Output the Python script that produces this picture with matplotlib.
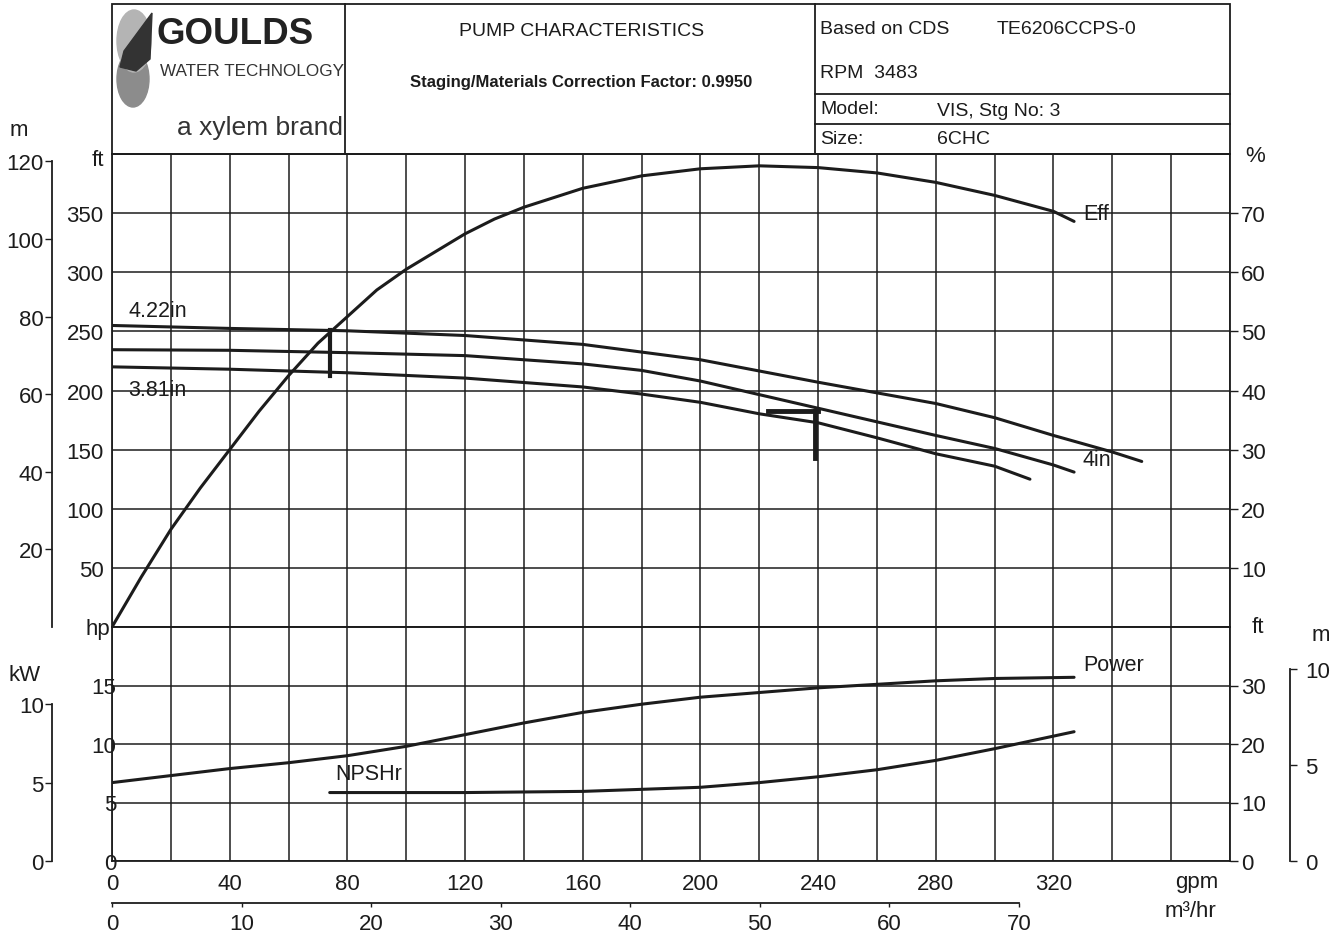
import matplotlib
matplotlib.use("Agg")
import matplotlib.pyplot as plt
from matplotlib.patches import Rectangle, Ellipse, Polygon

# --- data (gpm on x) ---
flow_eff = [0, 10, 20, 30, 40, 50, 60, 70, 80, 90, 100, 110, 120, 130, 140,
            160, 180, 200, 220, 240, 260, 280, 300, 320, 327]
eff_pct = [0, 8.5, 16.5, 23.5, 30, 36.5, 42.5, 48, 52.5, 57, 60.5, 63.5, 66.5, 69, 71,
           74.2, 76.3, 77.5, 78, 77.7, 76.8, 75.2, 73, 70.3, 68.6]

flow_422 = [0, 40, 80, 120, 160, 200, 220, 240, 260, 280, 300, 320, 340, 350]
head_422 = [255, 252.5, 250.5, 246.5, 239, 226, 216.5, 207, 198, 189, 177, 162, 148, 140]

flow_400 = [0, 40, 80, 120, 160, 180, 200, 220, 240, 260, 280, 300, 320, 327]
head_400 = [234.5, 234, 232, 229.5, 222.5, 217, 208, 196.5, 185, 173.5, 162, 151, 137, 131]

flow_381 = [0, 40, 80, 120, 160, 180, 200, 220, 240, 260, 280, 300, 312]
head_381 = [220, 218, 215, 210.5, 203, 197, 190, 180.3, 172.7, 160, 146.5, 136, 125]

flow_pwr = [0, 20, 40, 60, 80, 100, 120, 140, 160, 180, 200, 220, 240, 260, 280, 300, 327]
power_hp = [6.7, 7.3, 7.9, 8.4, 9.0, 9.8, 10.8, 11.8, 12.7, 13.4, 14.0, 14.4, 14.8,
            15.1, 15.4, 15.6, 15.7]

flow_npsh = [74, 120, 160, 200, 220, 240, 260, 280, 300, 327]
npsh_ft = [11.7, 11.7, 11.9, 12.6, 13.4, 14.4, 15.6, 17.2, 19.2, 22.1]

# min / max flow marks
min_flow, min_mark = 74, (212, 251)
max_flow, max_mark, max_bar = 239, (143, 183), (223, 240)

gpm_labels = [0, 40, 80, 120, 160, 200, 240, 280, 320]
m3h_labels = [0, 10, 20, 30, 40, 50, 60, 70]
head_ft_labels = [50, 100, 150, 200, 250, 300, 350]
head_m_labels = [20, 40, 60, 80, 100, 120]
pct_labels = [10, 20, 30, 40, 50, 60, 70]
hp_labels = [0, 5, 10, 15]
kw_labels = [0, 5, 10]
npsh_ft_labels = [0, 10, 20, 30]
npsh_m_labels = [0, 5, 10]

FT_PER_M = 3.2808
GPM_PER_M3H = 4.4029
KW_PER_HP = 0.7457

W, H = 1344, 937
INK = "#1c1c1c"
FONT = ["Liberation Sans", "DejaVu Sans"]
plt.rcParams["font.family"] = FONT

fig = plt.figure(figsize=(W / 100, H / 100), dpi=100)


def box(x0, y0, x1, y1):
    return [x0 / W, 1 - y1 / H, (x1 - x0) / W, (y1 - y0) / H]


L, R = 112, 1230
ax = fig.add_axes(box(L, 155, R, 628))
axb = fig.add_axes(box(L, 628, R, 862))
span = R - L

for a in (ax, axb):
    a.set_xlim(0, 380)
    a.set_xticks(range(0, 381, 20))
    a.grid(True, color=INK, lw=1.1)
    a.set_axisbelow(True)
    for s in a.spines.values():
        s.set_color(INK)
        s.set_linewidth(1.3)

# top panel: head (ft)
ax.set_ylim(0, 400)
ax.set_yticks(range(0, 401, 50))
ax.set_yticklabels([""] + [str(v) for v in head_ft_labels] + [""])
ax.tick_params(length=0, labelbottom=False, labelsize=16, pad=6, colors=INK)

# bottom panel: power (hp)
axb.set_ylim(0, 20)
axb.set_yticks(range(0, 21, 5))
axb.set_yticklabels([str(v) for v in hp_labels] + [""])
axb.set_xticklabels([str(v) if v in gpm_labels else "" for v in range(0, 381, 20)])
axb.tick_params(axis="y", length=0, labelsize=16, pad=-3, colors=INK)
axb.tick_params(axis="x", length=0, labelsize=16, pad=9, colors=INK)


def side_axis(parent, ymax, ticks, bound, pos, side, pad=1):
    a = parent.twinx()
    a.set_ylim(0, ymax)
    for k, s in a.spines.items():
        s.set_visible(k == side)
    sp = a.spines[side]
    sp.set_position(("axes", pos))
    sp.set_bounds(0, bound)
    sp.set_color(INK)
    sp.set_linewidth(1.3)
    a.yaxis.set_ticks_position(side)
    a.set_yticks(ticks)
    a.tick_params(direction="out", length=5, width=1, labelsize=16, pad=pad, colors=INK)
    return a


side_axis(ax, 400 / FT_PER_M, head_m_labels, 120, -60 / span, "left")
side_axis(axb, 20 * KW_PER_HP, kw_labels, 10, -60 / span, "left")
side_axis(axb, 40 / FT_PER_M, npsh_m_labels, 10, 1 + 60 / span, "right", pad=6)

# right: efficiency %
pct = ax.twinx()
pct.set_ylim(0, 80)
pct.set_yticks(pct_labels)
pct.tick_params(direction="out", length=6, width=1, labelsize=16, pad=2, colors=INK)
for s in pct.spines.values():
    s.set_visible(False)

# right bottom: NPSHr ft
nft = axb.twinx()
nft.set_ylim(0, 40)
nft.set_yticks(npsh_ft_labels)
nft.tick_params(direction="out", length=6, width=1, labelsize=16, pad=2, colors=INK)
for s in nft.spines.values():
    s.set_visible(False)

# m3/hr scale under the gpm scale
mh = fig.add_axes(box(L, 903, R, 904))
mh.set_xlim(0, 380 / GPM_PER_M3H)
mh.patch.set_visible(False)
for k, s in mh.spines.items():
    s.set_visible(k == "bottom")
mh.spines["bottom"].set_bounds(0, 70)
mh.spines["bottom"].set_color(INK)
mh.spines["bottom"].set_linewidth(1.3)
mh.set_yticks([])
mh.set_xticks(m3h_labels)
mh.tick_params(direction="out", length=3, width=1, labelsize=16, pad=4, colors=INK)

# curves
cw = 2.2
style = dict(color=INK, lw=cw, solid_capstyle="round", solid_joinstyle="round")
ax.plot(flow_422, head_422, **style)
ax.plot(flow_400, head_400, **style)
ax.plot(flow_381, head_381, **style)
pct.plot(flow_eff, eff_pct, **style)
ax.plot([min_flow, min_flow], min_mark, color=INK, lw=3)
ax.plot([max_flow, max_flow], max_mark, color=INK, lw=3.5)
ax.plot(max_bar, [max_mark[1], max_mark[1]], color=INK, lw=3.5)
axb.plot(flow_pwr, power_hp, **style)
nft.plot(flow_npsh, npsh_ft, **style)

lab = dict(fontsize=15.5, color=INK, va="center")
ax.text(5.5, 268, "4.22in", **lab)
ax.text(5.5, 201, "3.81in", **lab)
ax.text(330, 142, "4in", **lab)
ax.text(330, 350, "Eff", **lab)
axb.text(330, 16.8, "Power", **lab)
axb.text(76, 7.5, "NPSHr", **lab)

# overlay in pixel coords for header + unit labels
ov = fig.add_axes([0, 0, 1, 1])
ov.set_xlim(0, W)
ov.set_ylim(H, 0)
ov.axis("off")

lw = 1.3
ov.add_patch(Rectangle((L, 5), span, 150, fill=False, ec=INK, lw=lw))
ov.plot([345, 345], [5, 155], color=INK, lw=lw)
ov.plot([815, 815], [5, 155], color=INK, lw=lw)
ov.plot([815, R], [95, 95], color=INK, lw=lw)
ov.plot([815, R], [125, 125], color=INK, lw=lw)

# logo
ov.add_patch(Ellipse((133, 80), 32, 56, color="#8c8c8c"))
ov.add_patch(Ellipse((134, 42), 34, 62, color="#b4b4b4"))
ov.add_patch(Polygon([[152, 14], [150, 60], [136, 72], [120, 68], [124, 52]],
                     closed=True, color="#333333"))
ov.text(157, 35, "GOULDS", fontsize=26.5, fontweight="bold",
        color="#222222", va="center", ha="left")
ov.text(160, 71, "WATER TECHNOLOGY", fontsize=12.3,
        color="#333333", va="center", ha="left")
ov.text(343, 128, "a xylem brand", fontsize=19,
        color="#333333", va="center", ha="right")

ov.text(582, 31, "PUMP CHARACTERISTICS", fontsize=14, color=INK, ha="center", va="center")
ov.text(581, 82, "Staging/Materials Correction Factor: 0.9950", fontsize=12,
        fontweight="bold", color=INK, ha="center", va="center")

info = dict(fontsize=14, color=INK, va="center", ha="left")
ov.text(820, 30, "Based on CDS", **info)
ov.text(997, 30, "TE6206CCPS-0", **info)
ov.text(820, 73, "RPM  3483", **info)
ov.text(820, 110, "Model:", **info)
ov.text(937, 112, "VIS, Stg No: 3", **info)
ov.text(820, 140, "Size:", **info)
ov.text(937, 140, "6CHC", **info)

unit = dict(fontsize=16, color=INK, va="center")
ov.text(10, 131, "m", ha="left", **unit)
ov.text(104, 161, "ft", ha="right", **unit)
ov.text(1245, 156, "%", ha="left", **unit)
ov.text(110, 630, "hp", ha="right", **unit)
ov.text(1252, 628, "ft", ha="left", **unit)
ov.text(1312, 636, "m", ha="left", **unit)
ov.text(8, 676, "kW", ha="left", **unit)
ov.text(1197, 883, "gpm", ha="center", **unit)
ov.text(1190, 912, "m³/hr", ha="center", **unit)

fig.savefig("out.png", dpi=100, facecolor="white")
